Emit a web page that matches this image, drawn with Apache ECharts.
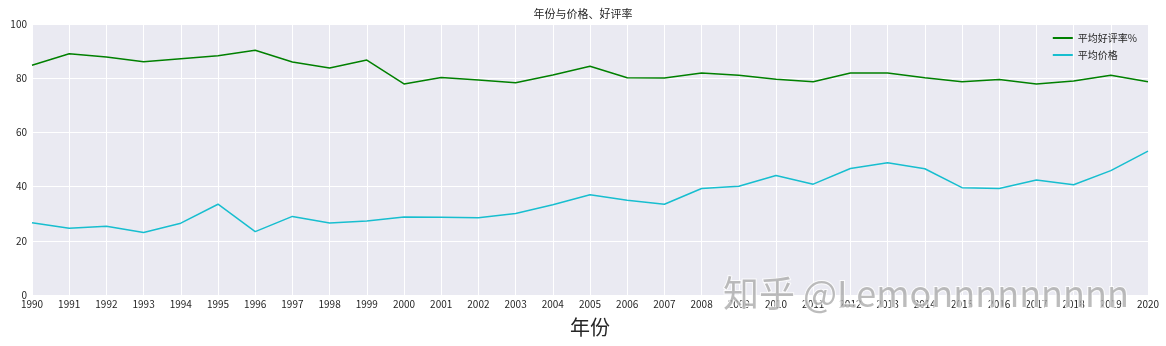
<!DOCTYPE html>
<html>
<head>
<meta charset="utf-8">
<script src="https://cdn.jsdelivr.net/npm/echarts@6/dist/echarts.min.js"></script>
<style>
html,body{margin:0;padding:0;background:#fff;}
#chart{width:1166px;height:346px;}
</style>
</head>
<body>
<div id="chart"></div>
<script>
var years = ['1990','1991','1992','1993','1994','1995','1996','1997','1998','1999','2000','2001','2002','2003','2004','2005','2006','2007','2008','2009','2010','2011','2012','2013','2014','2015','2016','2017','2018','2019','2020'];
var ratingPct = [84.8,89.0,87.8,86.1,87.2,88.3,90.3,86.0,83.8,86.7,77.9,80.3,79.3,78.3,81.2,84.4,80.2,80.1,81.9,81.1,79.6,78.7,81.9,81.9,80.2,78.7,79.5,77.9,79.0,81.1,78.7];
var avgPrice = [26.7,24.6,25.4,23.1,26.5,33.5,23.4,29.0,26.6,27.3,28.8,28.7,28.5,30.1,33.3,37.0,35.0,33.5,39.3,40.1,44.1,40.9,46.7,48.8,46.6,39.6,39.3,42.4,40.7,45.9,53.1];
var yTicks = [0,20,40,60,80,100];

var font = '"Noto Sans CJK SC", "Noto Sans", sans-serif';
var chart = echarts.init(document.getElementById('chart'), null, {renderer:'canvas'});
chart.setOption({
  backgroundColor:'#ffffff',
  animation:false,
  title:{text:'年份与价格、好评率', left:'center', top:3, textStyle:{fontFamily:font, fontSize:11, fontWeight:'normal', color:'#262626'}},
  legend:{
    top:28, right:24, orient:'vertical', itemGap:7, itemWidth:20, itemHeight:2,
    icon:'rect',
    textStyle:{fontFamily:font, fontSize:10, color:'#262626'},
    data:['平均好评率%','平均价格']
  },
  grid:{left:32, right:18, top:24, bottom:51, show:true, backgroundColor:'#eaeaf2', borderWidth:0, outerBoundsMode:'none', containLabel:false},
  xAxis:{
    type:'category', data:years, boundaryGap:false,
    name:'年份', nameLocation:'middle', nameGap:22,
    nameTextStyle:{fontFamily:font, fontSize:20, color:'#262626'},
    axisLine:{show:false}, axisTick:{show:false},
    axisLabel:{fontFamily:font, fontSize:10, color:'#262626', margin:4, interval:0},
    splitLine:{show:true, lineStyle:{color:'#ffffff', width:1}}
  },
  yAxis:{
    type:'value', min:yTicks[0], max:yTicks[yTicks.length-1], interval:20,
    axisLine:{show:false}, axisTick:{show:false},
    axisLabel:{fontFamily:font, fontSize:10, color:'#262626', margin:5},
    splitLine:{show:true, lineStyle:{color:'#ffffff', width:1}}
  },
  series:[
    {name:'平均好评率%', type:'line', data:ratingPct, symbol:'none', lineStyle:{color:'#008000', width:1.5}, itemStyle:{color:'#008000'}},
    {name:'平均价格', type:'line', data:avgPrice, symbol:'none', lineStyle:{color:'#17becf', width:1.5}, itemStyle:{color:'#17becf'}}
  ],
  graphic:[{
    type:'text', left:722, top:274, z:100,
    style:{text:'知乎 @Lemonnnnnnnnn', font:'36px "Noto Sans CJK SC", sans-serif', fill:'rgba(160,160,160,0.7)', stroke:'rgba(255,255,255,0.8)', lineWidth:2}
  }]
});
</script>
</body>
</html>
